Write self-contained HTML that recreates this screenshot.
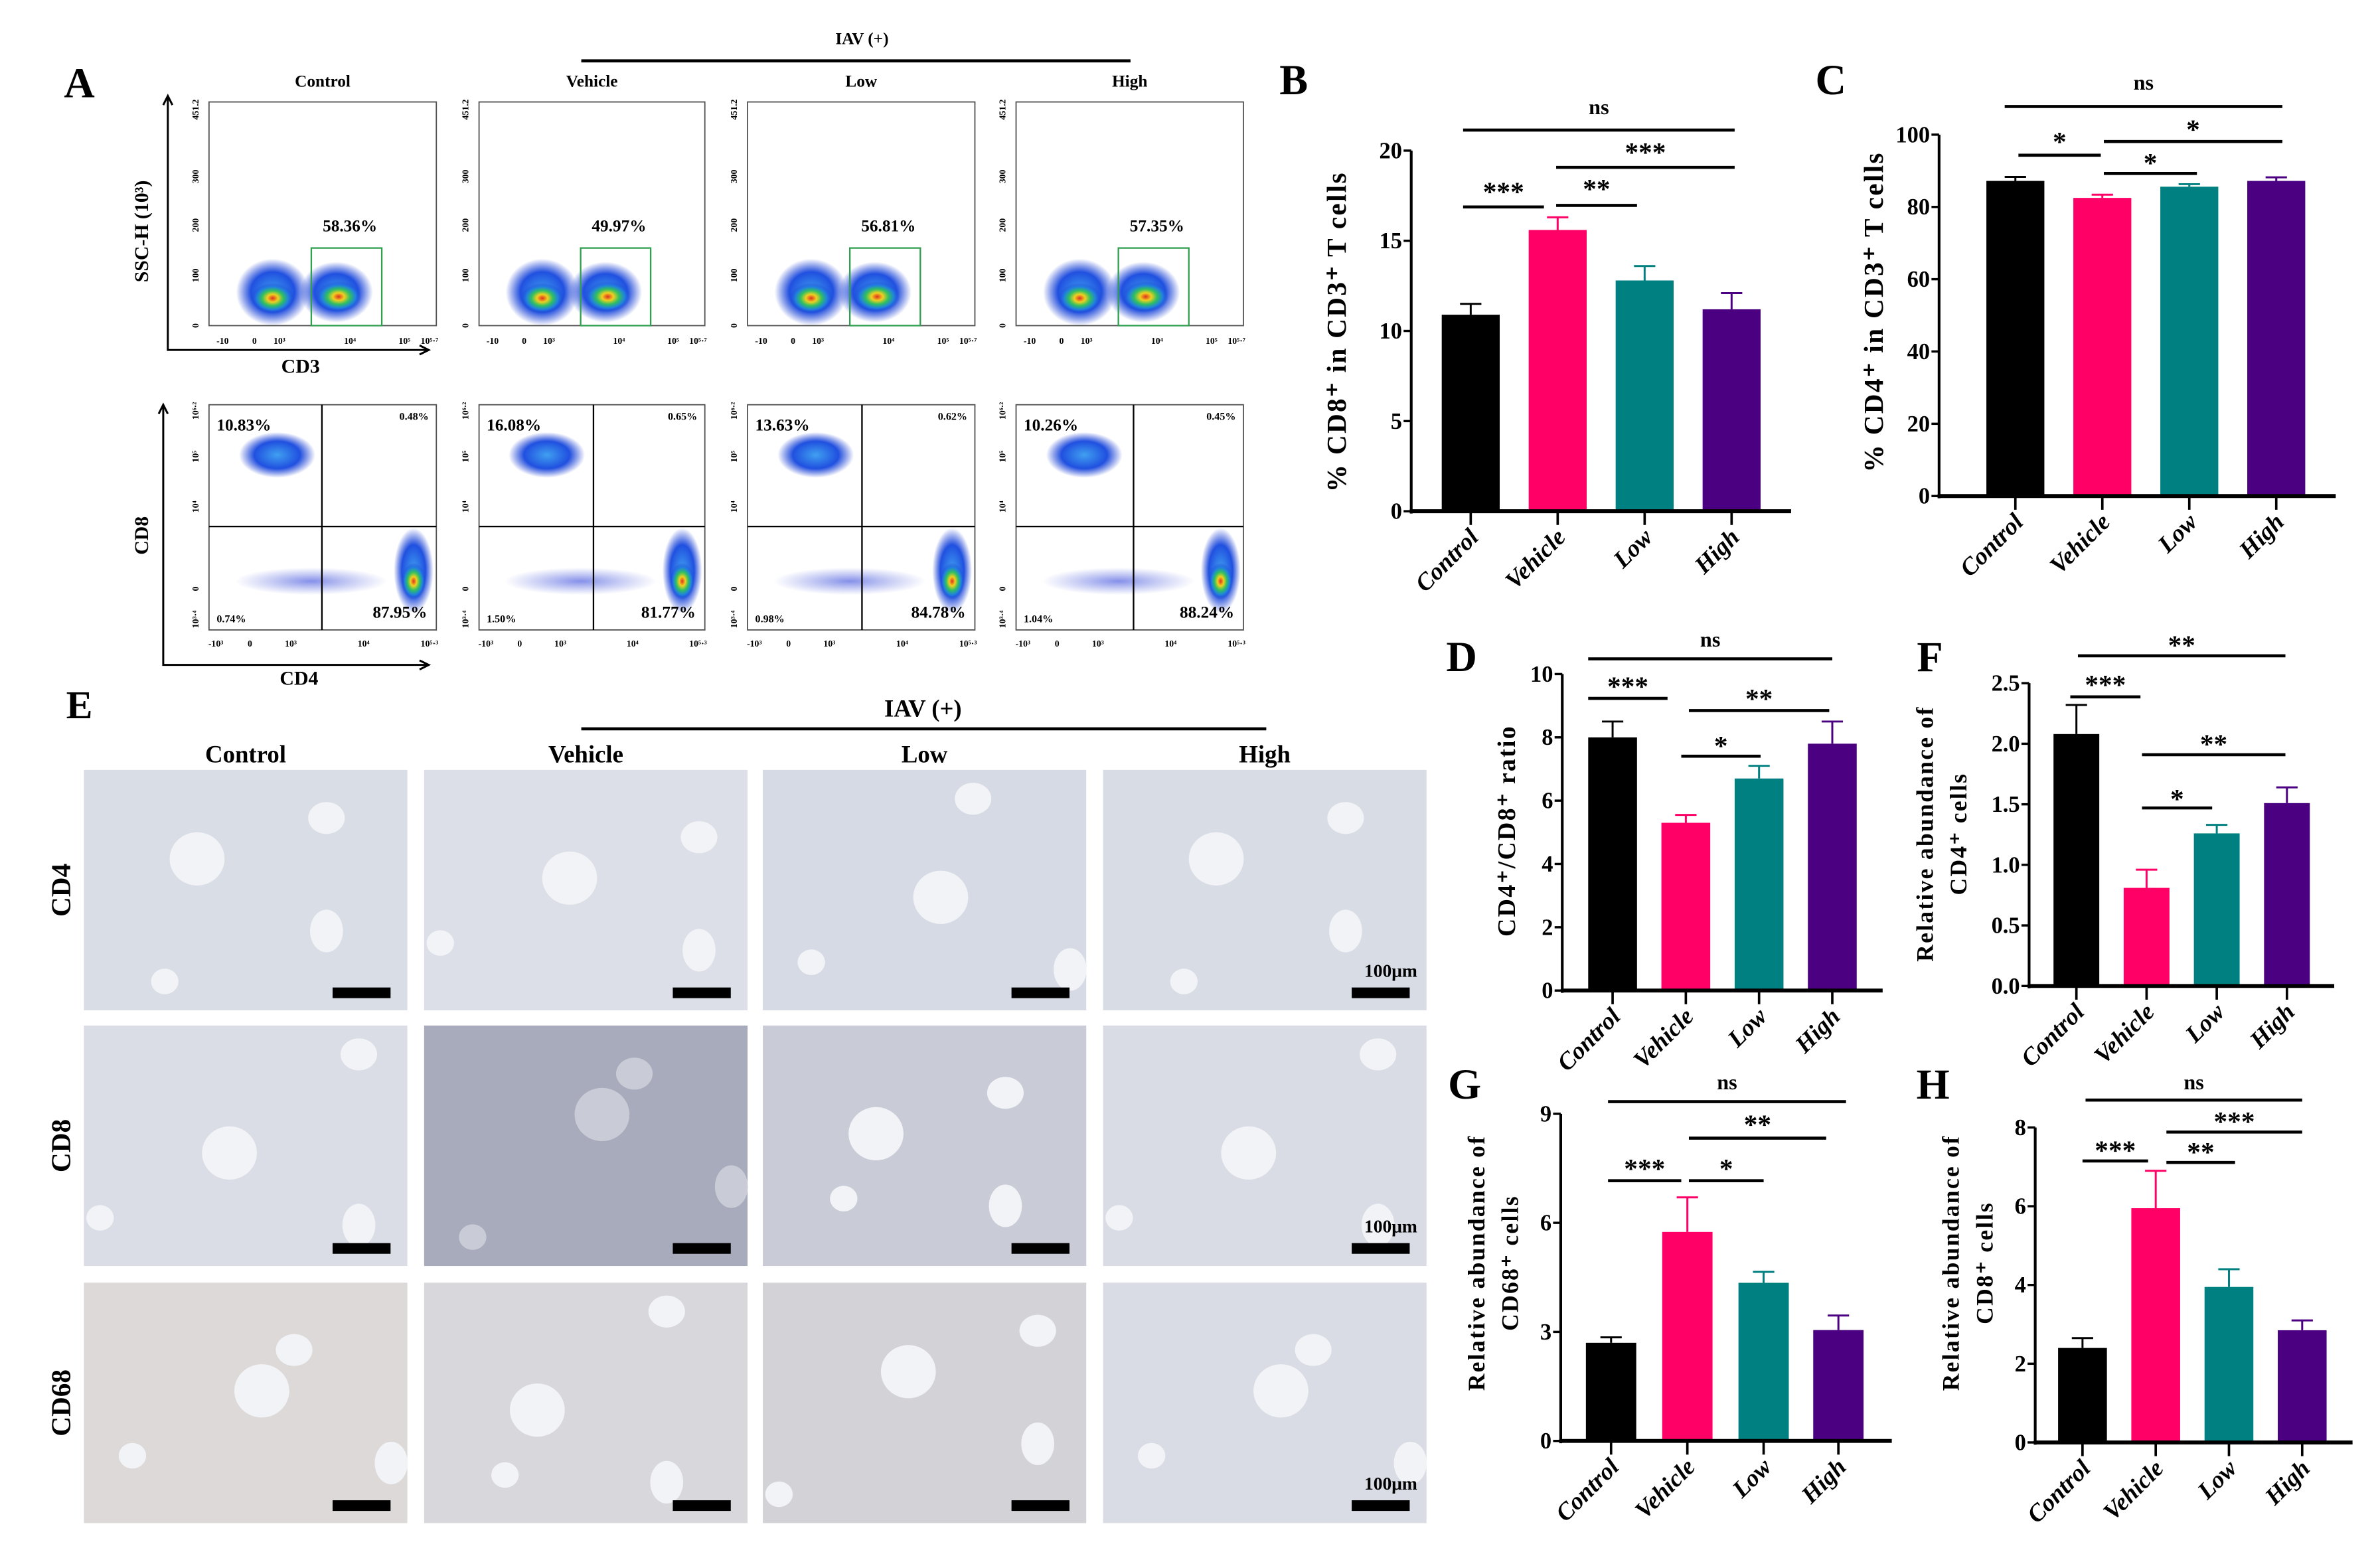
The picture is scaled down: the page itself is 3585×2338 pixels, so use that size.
<!DOCTYPE html>
<html><head><meta charset="utf-8">
<style>
html,body{margin:0;padding:0;background:#fff;}
svg{display:block;}
text{font-family:"Liberation Serif",serif;font-weight:bold;fill:#000;}
</style></head>
<body>
<svg id="fig" width="3585" height="2338" viewBox="0 0 1560 1020" preserveAspectRatio="none" xmlns="http://www.w3.org/2000/svg">
<defs>
<radialGradient id="dens" cx="50%" cy="50%" r="50%">
<stop offset="0" stop-color="#e03020"/><stop offset="0.25" stop-color="#f0d020"/><stop offset="0.5" stop-color="#30c060"/><stop offset="0.75" stop-color="#2080e0"/><stop offset="1" stop-color="#2040d0" stop-opacity="0"/>
</radialGradient>
<radialGradient id="densb" cx="50%" cy="50%" r="50%">
<stop offset="0" stop-color="#40a0f0"/><stop offset="0.6" stop-color="#2050e0"/><stop offset="1" stop-color="#2040d0" stop-opacity="0"/>
</radialGradient>
<radialGradient id="densw" cx="50%" cy="50%" r="50%">
<stop offset="0" stop-color="#5060e0" stop-opacity="0.7"/><stop offset="1" stop-color="#6070e0" stop-opacity="0"/>
</radialGradient>
</defs>
<g id="flow"></g>
<g id="tissue"></g>
<g id="charts"></g>
</svg>
<script>
const NS="http://www.w3.org/2000/svg";
function mk(parent,tag,attrs,txt){const e=document.createElementNS(NS,tag);for(const k in attrs)e.setAttribute(k,attrs[k]);if(txt!==undefined)e.textContent=txt;parent.appendChild(e);return e;}

// ---------- Chart data ----------
const groups=["Control","Vehicle","Low","High"];
const colors=["#000000","#ff0066","#008080","#4b0082"];
const bValues=[10.9,15.6,12.8,11.2];
const bErrors=[0.6,0.7,0.8,0.9];
const bTicks=[0,5,10,15,20];
const cValues=[87.2,82.5,85.6,87.2];
const cErrors=[1.1,0.9,0.7,1.0];
const cTicks=[0,20,40,60,80,100];
const dValues=[8.0,5.3,6.7,7.8];
const dErrors=[0.5,0.25,0.4,0.7];
const dTicks=[0,2,4,6,8,10];
const fValues=[2.08,0.81,1.26,1.51];
const fErrors=[0.24,0.15,0.07,0.13];
const fTicks=["0.0","0.5","1.0","1.5","2.0","2.5"];
const gValues=[2.7,5.75,4.35,3.05];
const gErrors=[0.15,0.95,0.3,0.4];
const gTicks=[0,3,6,9];
const hValues=[2.4,5.95,3.95,2.85];
const hErrors=[0.25,0.95,0.45,0.25];
const hTicks=[0,2,4,6,8];

const charts=[
 {id:"b",letter:"B",lx:848,ly:62,ax:925,y0:336,y1:99,ymax:20,xend:1174,cx:[964,1021,1078,1135],bw:38,vals:bValues,errs:bErrors,ticks:bTicks,
  title:["% CD8⁺ in CD3⁺ T cells"],tx:[882],ty:218,fs:18,
  sig:[["ns",959,1137,85.5,71],["***",1020,1137,110,97],["***",959,1012,136,123],["**",1020,1073,135,121]]},
 {id:"c",letter:"C",lx:1200,ly:62,ax:1271,y0:326,y1:88.5,ymax:100,xend:1531,cx:[1321,1378,1435,1492],bw:38,vals:cValues,errs:cErrors,ticks:cTicks,
  title:["% CD4⁺ in CD3⁺ T cells"],tx:[1234],ty:205,fs:18,
  sig:[["ns",1314,1496,70,55],["*",1323,1377,102,90],["*",1379,1496,93,82],["*",1379,1440,114,104]]},
 {id:"d",letter:"D",lx:958,ly:441,ax:1024,y0:651,y1:443,ymax:10,xend:1234,cx:[1057,1105,1153,1201],bw:32,vals:dValues,errs:dErrors,ticks:dTicks,
  title:["CD4⁺/CD8⁺ ratio"],tx:[993],ty:546,fs:16.5,
  sig:[["ns",1041,1201,433,421],["***",1041,1093,459,448],["**",1107,1199,467,456],["*",1102,1154,497,487]]},
 {id:"f",letter:"F",lx:1265,ly:441,ax:1330,y0:648,y1:449,ymax:2.5,xend:1530,cx:[1361,1407,1453,1499],bw:30,vals:fValues,errs:fErrors,ticks:fTicks,
  title:["Relative abundance of","CD4⁺ cells"],tx:[1267,1289],ty:548,fs:15.5,
  sig:[["**",1362,1498,431,421],["***",1357,1403,458,447],["**",1404,1498,496,486],["*",1404,1450,531,522]]},
 {id:"g",letter:"G",lx:960,ly:722,ax:1023,y0:947,y1:732,ymax:9,xend:1240,cx:[1056,1106,1156,1205],bw:33,vals:gValues,errs:gErrors,ticks:gTicks,
  title:["Relative abundance of","CD68⁺ cells"],tx:[973,995],ty:830,fs:15.5,
  sig:[["ns",1054,1210,724,712],["**",1107,1197,748,736],["***",1054,1102,776,765],["*",1107,1156,776,765]]},
 {id:"h",letter:"H",lx:1267,ly:722,ax:1334,y0:948,y1:741,ymax:8,xend:1542,cx:[1365,1413,1461,1509],bw:32,vals:hValues,errs:hErrors,ticks:hTicks,
  title:["Relative abundance of","CD8⁺ cells"],tx:[1284,1306],ty:830,fs:15.5,
  sig:[["ns",1367,1509,723,712],["***",1420,1509,744,734],["***",1365,1408,763,753],["**",1420,1465,764,754]]}
];

const chartsG=document.getElementById("charts");
charts.forEach(c=>{
  const g=mk(chartsG,"g",{});
  
  
  const ys=v=>c.y0-(v/c.ymax)*(c.y0-c.y1);
  const lab=mk(g,"text",{x:c.lx,y:c.ly,"font-size":28,"text-anchor":"middle"},c.letter);
  
  
  c.vals.forEach((v,i)=>{
    const top=ys(v), et=ys(v+c.errs[i]);
    const el=mk(g,"line",{x1:c.cx[i],x2:c.cx[i],y1:top,y2:et,stroke:colors[i],"stroke-width":1.3});
    
    
    mk(g,"line",{x1:c.cx[i]-7,x2:c.cx[i]+7,y1:et,y2:et,stroke:colors[i],"stroke-width":1.3});
    const r=mk(g,"rect",{x:c.cx[i]-c.bw/2,y:top,width:c.bw,height:c.y0-top,fill:colors[i]});
    
    
    mk(g,"line",{x1:c.cx[i],x2:c.cx[i],y1:c.y0,y2:c.y0+9,stroke:"#000","stroke-width":1.6});
    const t=mk(g,"text",{x:0,y:0,"font-size":16,"font-style":"italic","text-anchor":"end",transform:`translate(${c.cx[i]+6},${c.y0+18}) rotate(-45)`},groups[i]);
    
    
  });
  const ya=mk(g,"line",{x1:c.ax,x2:c.ax,y1:c.y1,y2:c.y0+1.5,stroke:"#000","stroke-width":1.8});
  
  
  const xa=mk(g,"line",{x1:c.ax-1,x2:c.xend,y1:c.y0,y2:c.y0,stroke:"#000","stroke-width":2.6});
  
  
  c.ticks.forEach(t=>{
    const y=ys(parseFloat(t));
    mk(g,"line",{x1:c.ax-5,x2:c.ax,y1:y,y2:y,stroke:"#000","stroke-width":1.5});
    const tl=mk(g,"text",{x:c.ax-6,y:y+5,"font-size":15,"text-anchor":"end"},String(t));
    
    
  });
  c.title.forEach((s,k)=>{
    const tt=mk(g,"text",{x:0,y:0,"font-size":c.fs,"text-anchor":"middle",transform:`translate(${c.tx[k]},${c.ty}) rotate(-90)`,"letter-spacing":"1"},s);
    
    
  });
  c.sig.forEach(s=>{
    const l=mk(g,"line",{x1:s[1],x2:s[2],y1:s[3],y2:s[3],stroke:"#000","stroke-width":2});
    
    
    const st=mk(g,"text",{x:(s[1]+s[2])/2,y:s[4]+(s[0]==="ns"?4:9),"font-size":s[0]==="ns"?14:18,"text-anchor":"middle","font-family":"Liberation Sans","font-weight":s[0]==="ns"?"normal":"bold"},s[0]);
    
    
  });
});

// ---------- Flow cytometry ----------
const flowG=document.getElementById("flow");
const fA=mk(flowG,"text",{x:52,y:64,"font-size":28,"text-anchor":"middle"},"A");


const iav1=mk(flowG,"text",{x:565,y:29,"font-size":11,"text-anchor":"middle"},"IAV (+)");


mk(flowG,"line",{x1:381,x2:741,y1:40,y2:40,stroke:"#000","stroke-width":2});
const boxX=[[137,286],[314,462],[490,639],[666,815]];
const qx=[211,389,565,743];
const topPct=["58.36%","49.97%","56.81%","57.35%"];
const ul=["10.83%","16.08%","13.63%","10.26%"];
const ur=["0.48%","0.65%","0.62%","0.45%"];
const ll=["0.74%","1.50%","0.98%","1.04%"];
const lr=["87.95%","81.77%","84.78%","88.24%"];
boxX.forEach((b,i)=>{
  const [x0,x1]=b,w=x1-x0;
  const tt=mk(flowG,"text",{x:(x0+x1)/2,y:57,"font-size":11,"text-anchor":"middle"},groups[i]);
  
  
  const r=mk(flowG,"rect",{x:x0,y:67,width:w,height:147,fill:"#fff",stroke:"#555","stroke-width":0.8});
  
  
  mk(flowG,"ellipse",{cx:x0+0.28*w,cy:192,rx:24,ry:22,fill:"url(#densb)"});
  mk(flowG,"ellipse",{cx:x0+0.56*w,cy:192,rx:24,ry:20,fill:"url(#densb)"});
  mk(flowG,"ellipse",{cx:x0+0.28*w,cy:196,rx:14,ry:10,fill:"url(#dens)"});
  mk(flowG,"ellipse",{cx:x0+0.57*w,cy:195,rx:15,ry:10,fill:"url(#dens)"});
  mk(flowG,"rect",{x:x0+0.45*w,y:163,width:0.31*w,height:51,fill:"none",stroke:"#30a050","stroke-width":1});
  const p=mk(flowG,"text",{x:x0+0.62*w,y:152,"font-size":11,"text-anchor":"middle"},topPct[i]);
  
  
  ["0","100","200","300","451.2"].forEach((t,k)=>{
    const yy=[214,181,148,116,72][k];
    mk(flowG,"text",{x:0,y:0,"font-size":6,"font-weight":"normal","text-anchor":"middle",transform:`translate(${x0-7},${yy}) rotate(-90)`,"font-family":"Liberation Sans"},t);
  });
  ["-10","0","10³","10⁴","10⁵","10⁵·⁷"].forEach((t,k)=>{
    mk(flowG,"text",{x:x0+[0.06,0.2,0.31,0.62,0.86,0.97][k]*w,y:226,"font-size":6,"font-weight":"normal","text-anchor":"middle","font-family":"Liberation Sans"},t);
  });
  const r2=mk(flowG,"rect",{x:x0,y:266,width:w,height:148,fill:"#fff",stroke:"#555","stroke-width":0.8});
  
  
  mk(flowG,"ellipse",{cx:x0+0.3*w,cy:299,rx:25,ry:15,fill:"url(#densb)"});
  mk(flowG,"ellipse",{cx:x0+0.45*w,cy:382,rx:50,ry:9,fill:"url(#densw)"});
  mk(flowG,"ellipse",{cx:x0+0.9*w,cy:375,rx:13,ry:28,fill:"url(#densb)"});
  mk(flowG,"ellipse",{cx:x0+0.9*w,cy:382,rx:8,ry:12,fill:"url(#dens)"});
  mk(flowG,"line",{x1:x0,x2:x1,y1:346,y2:346,stroke:"#000","stroke-width":1});
  mk(flowG,"line",{x1:qx[i],x2:qx[i],y1:266,y2:414,stroke:"#000","stroke-width":1});
  [[ul[i],x0+5,283,11,"start"],[ur[i],x1-5,276,7,"end"],[ll[i],x0+5,409,7,"start"],[lr[i],x1-6,406,11,"end"]].forEach(q=>{
    const qt=mk(flowG,"text",{x:q[1],y:q[2],"font-size":q[3],"text-anchor":q[4]},q[0]);
    
    
  });
  ["10³·⁴","0","10⁴","10⁵","10⁶·²"].forEach((t,k)=>{
    const yy=[407,387,333,300,270][k];
    mk(flowG,"text",{x:0,y:0,"font-size":6,"font-weight":"normal","text-anchor":"middle",transform:`translate(${x0-7},${yy}) rotate(-90)`,"font-family":"Liberation Sans"},t);
  });
  ["-10³","0","10³","10⁴","10⁵·³"].forEach((t,k)=>{
    mk(flowG,"text",{x:x0+[0.03,0.18,0.36,0.68,0.97][k]*w,y:425,"font-size":6,"font-weight":"normal","text-anchor":"middle","font-family":"Liberation Sans"},t);
  });
});
[[110,63,230,281],[107,266,437,281]].forEach((a,k)=>{
  mk(flowG,"polyline",{points:`${a[0]},${a[1]} ${a[0]},${a[2]} ${a[3]},${a[2]}`,fill:"none",stroke:"#000","stroke-width":1.3});
  mk(flowG,"polyline",{points:`${a[0]-3},${a[1]+6} ${a[0]},${a[1]} ${a[0]+3},${a[1]+6}`,fill:"none",stroke:"#000","stroke-width":1.3});
  mk(flowG,"polyline",{points:`${a[3]-6},${a[2]-3} ${a[3]},${a[2]} ${a[3]-6},${a[2]+3}`,fill:"none",stroke:"#000","stroke-width":1.3});
});
[["SSC-H (10³)",97,152,true],["CD3",197,245,false],["CD8",97,352,true],["CD4",196,450,false]].forEach(l=>{
  const t=mk(flowG,"text",{x:0,y:0,"font-size":13,"text-anchor":"middle",transform:`translate(${l[1]},${l[2]})${l[3]?" rotate(-90)":""}`},l[0]);
  
  
});

// ---------- IHC tissue panel ----------
const tg=document.getElementById("tissue");
const eL=mk(tg,"text",{x:52,y:472,"font-size":26,"text-anchor":"middle"},"E");


const iav2=mk(tg,"text",{x:605,y:471,"font-size":16,"text-anchor":"middle"},"IAV (+)");


mk(tg,"line",{x1:381,x2:830,y1:479,y2:479,stroke:"#000","stroke-width":2});
const colX=[55,278,500,723];
const rowY=[506,674,843];
const rowNames=["CD4","CD8","CD68"];
const tint=[["#d9dde6","#dcdfe7","#d6dae4","#d8dce5"],["#dadde6","#a7abbb","#c9ccd7","#d9dce5"],["#ddd9d8","#d8d8dc","#d3d2d6","#d9dce4"]];
const holes=[[0.45,0.45,0.3,0.25],[0.75,0.2,0.2,0.15],[0.15,0.8,0.15,0.12],[0.85,0.75,0.18,0.2]];
colX.forEach((x,i)=>{
  const t=mk(tg,"text",{x:x+106,y:501,"font-size":16,"text-anchor":"middle"},groups[i]);
  
  
});
rowY.forEach((y,r)=>{
  const t=mk(tg,"text",{x:0,y:0,"font-size":18,"text-anchor":"middle",transform:`translate(${46},${y+79}) rotate(-90)`},rowNames[r]);
  
  
  colX.forEach((x,c)=>{
    const im=mk(tg,"rect",{x:x,y:y,width:212,height:158,fill:tint[r][c]});
    
    
    holes.forEach((h,k)=>{
      const hx=(h[0]+0.1*((r+c+k)%3-1)), hy=(h[1]+0.08*((r*2+c+k)%3-1));
      mk(tg,"ellipse",{cx:x+hx*212,cy:y+hy*158,rx:h[2]*60,ry:h[3]*70,fill:(r===1&&c===1)?"#c9ccd6":"#f2f3f6"});
    });
    const sb=mk(tg,"rect",{x:x+163,y:y+143,width:38,height:7,fill:"#000"});
    
    
    if(c===3){
      const s=mk(tg,"text",{x:x+206,y:y+136,"font-size":12,"text-anchor":"end"},"100μm");
      
      
    }
  });
});
</script>
</body></html>
